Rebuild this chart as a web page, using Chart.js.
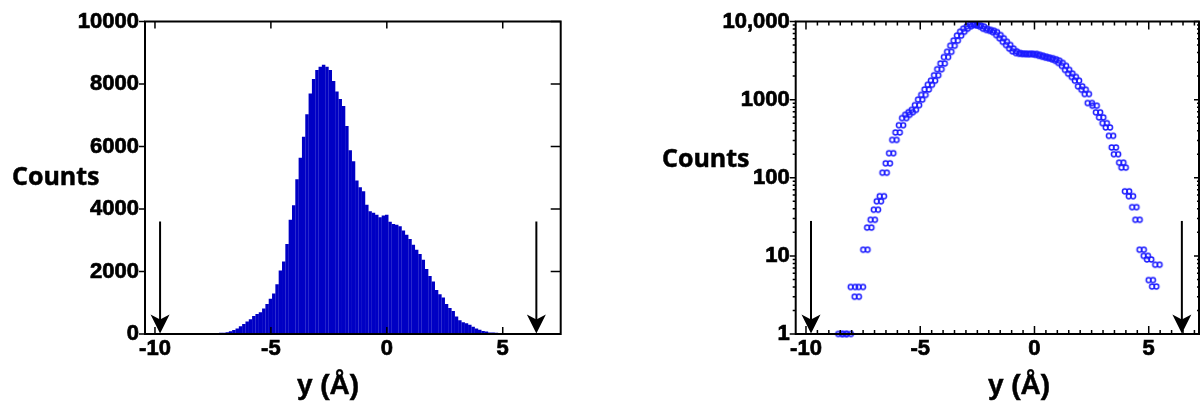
<!DOCTYPE html>
<html>
<head>
<meta charset="utf-8">
<script src="https://cdn.jsdelivr.net/npm/chart.js@4/dist/chart.umd.min.js"></script>
<style>
  body { margin: 0; background: #fff; }
  #wrap { position: relative; width: 1204px; height: 402px; overflow: hidden; }
  canvas { position: absolute; top: 0; }
  .lab { position: absolute; white-space: nowrap; color: #000; -webkit-text-stroke: 0.5px #000; }
  .counts { font: 700 25px/25px "Open Sans", sans-serif; }
  .xt { font: 700 28px/28px "Liberation Sans", Arial, sans-serif; width: 200px; text-align: center; }
</style>
</head>
<body>
<div id="wrap">
  <canvas id="histo" width="600" height="402" style="left:0"></canvas>
  <canvas id="logplot" width="604" height="402" style="left:600px"></canvas>
  <div class="lab counts" style="left:12px;top:163px">Counts</div>
  <div class="lab counts" style="left:662px;top:145px">Counts</div>
  <div class="lab xt" style="left:228px;top:371px">y (Å)</div>
  <div class="lab xt" style="left:919px;top:371px">y (Å)</div>
</div>
<script>
// histogram (left), bin centres in Å
var binCentres = [-7.168,-7.025,-6.881,-6.738,-6.595,-6.451,-6.308,-6.165,-6.022,-5.878,
  -5.735,-5.592,-5.448,-5.305,-5.162,-5.019,-4.875,-4.732,-4.589,-4.445,
  -4.302,-4.159,-4.015,-3.872,-3.729,-3.586,-3.442,-3.299,-3.156,-3.012,
  -2.869,-2.726,-2.582,-2.439,-2.296,-2.153,-2.009,-1.866,-1.723,-1.579,
  -1.436,-1.293,-1.149,-1.006,-0.863,-0.720,-0.576,-0.433,-0.290,-0.146,
  -0.003,0.140,0.284,0.427,0.570,0.714,0.857,1.000,1.143,1.287,
  1.430,1.573,1.717,1.860,2.003,2.146,2.290,2.433,2.576,2.720,
  2.863,3.006,3.150,3.293,3.436,3.580,3.723,3.866,4.009,4.153,
  4.296,4.439,4.583,4.726];
var histCounts = [40,40,60,90,130,180,250,320,400,470,
  580,640,700,820,960,1130,1300,1590,2030,2320,
  2880,3660,4120,4950,5640,6310,7030,7700,8160,8450,
  8550,8620,8550,8450,8100,7760,7520,7300,6660,5880,
  5530,4910,4700,4570,4140,3930,3880,3820,3740,3790,
  3820,3590,3520,3500,3450,3310,3180,3040,2860,2700,
  2560,2380,2080,1860,1680,1410,1270,1170,960,830,
  740,560,440,380,345,300,230,180,140,100,
  80,50,45,40];

// log plot (right)
var logX = [-8.49,-8.32,-8.13,-7.95,-7.78,-7.60,-7.40,-7.23,-7.08,-6.94,
  -6.81,-6.68,-6.56,-6.42,-6.27,-6.13,-5.99,-5.84,-5.70,-5.56,
  -5.42,-5.28,-5.14,-5.00,-4.86,-4.72,-4.58,-4.44,-4.30,-4.16,
  -4.02,-3.87,-3.73,-3.59,-3.45,-3.30,-3.16,-3.02,-2.87,-2.73,
  -2.59,-2.44,-2.30,-2.16,-2.01,-1.87,-1.73,-1.58,-1.44,-1.30,
  -1.15,-1.01,-0.87,-0.72,-0.58,-0.44,-0.29,-0.15,0.00,0.14,
  0.28,0.43,0.57,0.71,0.86,1.00,1.14,1.29,1.43,1.57,
  1.72,1.86,2.00,2.15,2.29,2.42,2.63,2.78,2.92,3.07,
  3.21,3.35,3.47,3.57,3.80,3.90,4.05,4.22,4.37,4.51,
  4.69,4.87,5.02,5.09,5.24,5.38];
var logCounts = [1,1,1,4,3,4,12,23,29,39,
  50,58,116,153,206,305,380,470,580,640,
  690,740,850,1000,1150,1350,1550,1750,2050,2450,
  2900,3500,4100,4900,5700,6600,7400,8100,8700,9100,
  9100,8900,8600,8100,7800,7600,7300,6700,6100,5500,
  5000,4500,4150,3950,3870,3850,3850,3830,3850,3750,
  3650,3550,3450,3380,3280,3150,2950,2700,2400,2150,
  1950,1750,1480,1340,1180,904,835,687,592,500,
  440,344,244,200,156,135,67,58,42,29,
  12,10,9,4.9,4.05,7.7];

var xTicks = [-10, -5, 0, 5];
var histYTicks = [0, 2000, 4000, 6000, 8000, 10000];
var histYLabels = ['0', '2000', '4000', '6000', '8000', '10000'];
var logYTicks = [1, 10, 100, 1000, 10000];
var logYLabels = ['1', '10', '100', '1000', '10,000'];
var arrowX = [-9.78, 6.45];
var histArrowTop = 3600;
var logArrowTop = 28;

var tickFont = { family: "'Liberation Sans', Arial, sans-serif", size: 22, weight: 'bold' };

// frame, inward/outward ticks and the two arrows
var framePlugin = {
  id: 'frame',
  afterDatasetsDraw: function(chart, args, o) {
    var a = chart.chartArea, ctx = chart.ctx;
    var xs = chart.scales.x, ys = chart.scales.y;
    ctx.save();
    ctx.strokeStyle = '#000';
    ctx.lineWidth = 1.5;
    ctx.beginPath();
    o.xMajor.forEach(function(v) {
      var p = xs.getPixelForValue(v);
      ctx.moveTo(p, a.top); ctx.lineTo(p, a.top + o.xLen);
      ctx.moveTo(p, a.bottom); ctx.lineTo(p, a.bottom - o.xLen);
    });
    o.xMinor.forEach(function(v) {
      var p = xs.getPixelForValue(v);
      ctx.moveTo(p, a.top); ctx.lineTo(p, a.top + o.xMinLen);
      ctx.moveTo(p, a.bottom); ctx.lineTo(p, a.bottom - o.xMinLen);
    });
    o.yMajor.forEach(function(v) {
      var p = ys.getPixelForValue(v);
      ctx.moveTo(a.left, p); ctx.lineTo(a.left - o.yOut, p);
      ctx.moveTo(a.right, p); ctx.lineTo(a.right - o.yIn, p);
    });
    o.yMinor.forEach(function(v) {
      var p = ys.getPixelForValue(v);
      ctx.moveTo(a.left, p); ctx.lineTo(a.left - o.yMinOut, p);
      ctx.moveTo(a.right, p); ctx.lineTo(a.right - o.yMinIn, p);
    });
    ctx.stroke();
    ctx.lineWidth = 2;
    ctx.strokeRect(a.left, a.top, a.right - a.left, a.bottom - a.top);

    // arrows
    ctx.fillStyle = '#000';
    o.arrows.forEach(function(v) {
      var px = xs.getPixelForValue(v);
      var top = ys.getPixelForValue(o.arrowTop);
      var tip = a.bottom - 0.5;
      ctx.beginPath();
      ctx.moveTo(px, top); ctx.lineTo(px, tip - 12);
      ctx.stroke();
      ctx.beginPath();
      ctx.moveTo(px, tip);
      ctx.lineTo(px - 9.5, tip - 19);
      ctx.lineTo(px, tip - 14);
      ctx.lineTo(px + 9.5, tip - 19);
      ctx.closePath();
      ctx.fill();
    });
    ctx.restore();
  }
};

function setTicks(values) {
  return function(scale) {
    scale.ticks = values.map(function(v) { return { value: v }; });
  };
}

// left: linear histogram
new Chart(document.getElementById('histo'), {
  type: 'bar',
  data: {
    datasets: [{
      data: binCentres.map(function(x, i) { return { x: x, y: histCounts[i] }; }),
      backgroundColor: '#0000c4',
      borderWidth: 0,
      barPercentage: 1.05,
      categoryPercentage: 1
    }]
  },
  options: {
    responsive: false,
    animation: false,
    events: [],
    layout: { padding: { left: 0, right: 39.3, top: 21.5, bottom: 0 } },
    plugins: {
      legend: { display: false },
      tooltip: { enabled: false },
      frame: {
        xMajor: xTicks, xLen: 7, xMinor: [], xMinLen: 0,
        yMajor: histYTicks, yOut: 6, yIn: 10, yMinor: [], yMinOut: 0, yMinIn: 0,
        arrows: arrowX, arrowTop: histArrowTop
      }
    },
    scales: {
      x: {
        type: 'linear', min: -10.43, max: 7.5, offset: false,
        grid: { display: false, drawTicks: false }, border: { display: false },
        afterBuildTicks: setTicks(xTicks),
        afterFit: function(s) { s.height = 68; },
        ticks: { font: tickFont, color: '#000', padding: 2, maxRotation: 0,
                 textStrokeColor: '#000', textStrokeWidth: 0.7 }
      },
      y: {
        min: 0, max: 10000,
        grid: { display: false, drawTicks: false }, border: { display: false },
        afterBuildTicks: setTicks(histYTicks),
        afterFit: function(s) { s.width = 145; },
        ticks: {
          font: tickFont, color: '#000', padding: 6,
          textStrokeColor: '#000', textStrokeWidth: 0.7,
          callback: function(val, i) { return histYLabels[i]; }
        }
      }
    }
  },
  plugins: [framePlugin]
});

// marker: two small rings side by side
function ringPair() {
  var c = document.createElement('canvas');
  c.width = 14; c.height = 9;
  var g = c.getContext('2d');
  g.strokeStyle = '#1c1cff';
  g.lineWidth = 1.5;
  [4.8, 9.2].forEach(function(cx) {
    g.beginPath(); g.arc(cx, 4.5, 2.4, 0, Math.PI * 2); g.stroke();
  });
  return c;
}

var minorX = [];
for (var v = -10; v <= 7; v += 0.5) { if (v % 5 !== 0) minorX.push(v); }
var minorY = [];
[1, 10, 100, 1000].forEach(function(d) {
  for (var m = 2; m <= 9; m++) minorY.push(d * m);
});

// right: log scatter
new Chart(document.getElementById('logplot'), {
  type: 'scatter',
  data: {
    datasets: [{
      data: logX.map(function(x, i) { return { x: x, y: logCounts[i] }; }),
      pointStyle: ringPair(),
      clip: false
    }]
  },
  options: {
    responsive: false,
    animation: false,
    events: [],
    layout: { padding: { left: 0, right: 2.3, top: 21.5, bottom: 0 } },
    plugins: {
      legend: { display: false },
      tooltip: { enabled: false },
      frame: {
        xMajor: xTicks, xLen: 8, xMinor: minorX, xMinLen: 4,
        yMajor: logYTicks, yOut: 6, yIn: 5, yMinor: minorY, yMinOut: 3, yMinIn: 2,
        arrows: arrowX, arrowTop: logArrowTop
      }
    },
    scales: {
      x: {
        type: 'linear', min: -10.45, max: 7.2,
        grid: { display: false, drawTicks: false }, border: { display: false },
        afterBuildTicks: setTicks(xTicks),
        afterFit: function(s) { s.height = 68; },
        ticks: { font: tickFont, color: '#000', padding: 2, maxRotation: 0,
                 textStrokeColor: '#000', textStrokeWidth: 0.7 }
      },
      y: {
        type: 'logarithmic', min: 1, max: 10000,
        grid: { display: false, drawTicks: false }, border: { display: false },
        afterBuildTicks: setTicks(logYTicks),
        afterFit: function(s) { s.width = 195.7; },
        ticks: {
          font: tickFont, color: '#000', padding: 6,
          textStrokeColor: '#000', textStrokeWidth: 0.7,
          callback: function(val, i) { return logYLabels[i]; }
        }
      }
    }
  },
  plugins: [framePlugin]
});
</script>
</body>
</html>
